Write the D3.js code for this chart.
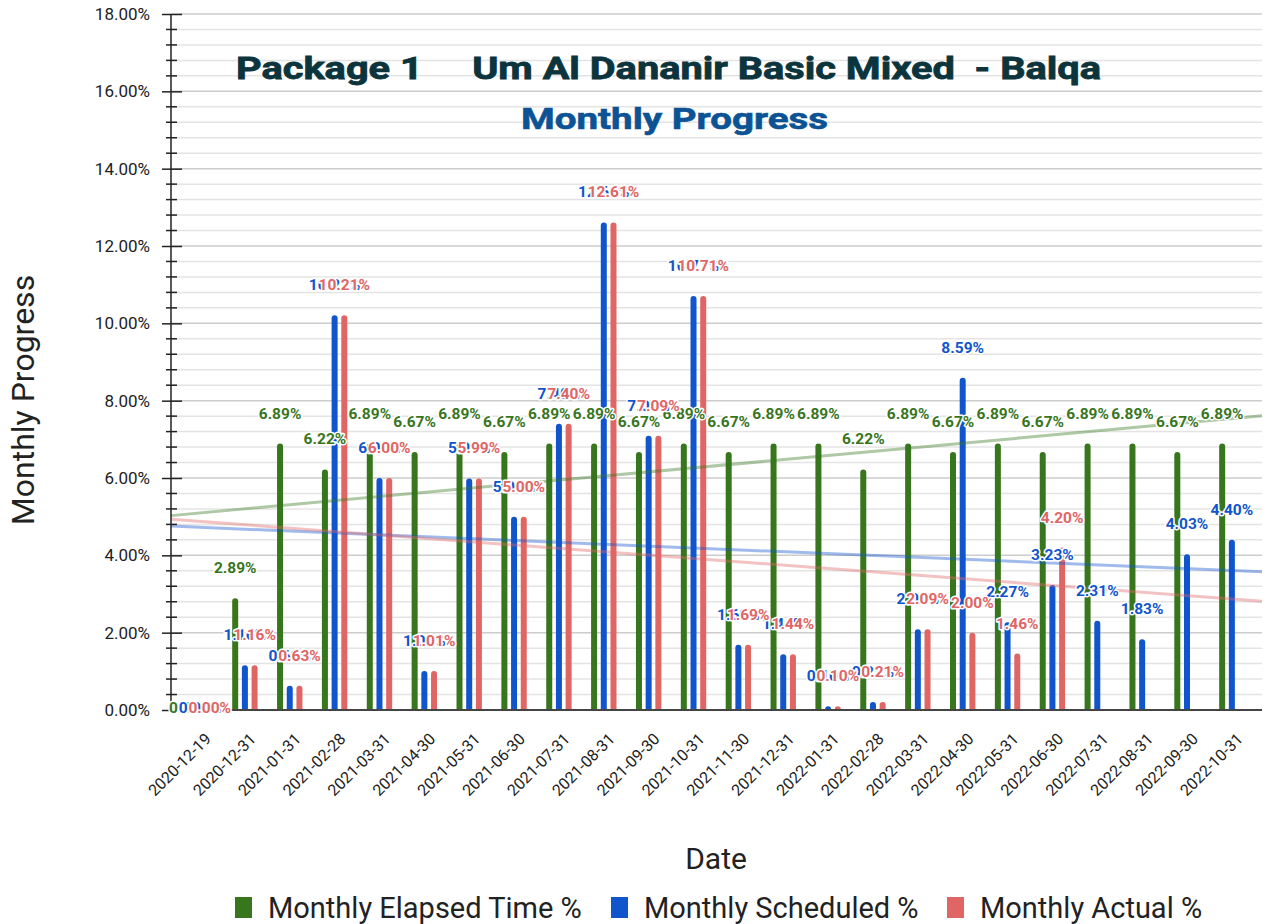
<!DOCTYPE html>
<html>
<head>
<meta charset="utf-8">
<script src="https://cdn.jsdelivr.net/npm/d3@7"></script>
<style>
  body { margin: 0; background: #fff; }
  text { font-family: Roboto, "Noto Sans", sans-serif; }
</style>
</head>
<body>
<script>
// Chart data (percent values, null = no bar)
const dates = ['2020-12-19', '2020-12-31', '2021-01-31', '2021-02-28', '2021-03-31', '2021-04-30',
  '2021-05-31', '2021-06-30', '2021-07-31', '2021-08-31', '2021-09-30', '2021-10-31', '2021-11-30',
  '2021-12-31', '2022-01-31', '2022-02-28', '2022-03-31', '2022-04-30', '2022-05-31', '2022-06-30',
  '2022-07-31', '2022-08-31', '2022-09-30', '2022-10-31'];
const elapsed = [0.00, 2.89, 6.89, 6.22, 6.89, 6.67, 6.89, 6.67, 6.89, 6.89, 6.67, 6.89, 6.67,
  6.89, 6.89, 6.22, 6.89, 6.67, 6.89, 6.67, 6.89, 6.89, 6.67, 6.89];
const scheduled = [0.00, 1.16, 0.63, 10.21, 6.00, 1.01, 5.99, 5.00, 7.40, 12.61, 7.09, 10.71, 1.69,
  1.44, 0.10, 0.21, 2.09, 8.59, 2.27, 3.23, 2.31, 1.83, 4.03, 4.40];
const actual = [0.00, 1.16, 0.63, 10.21, 6.00, 1.01, 5.99, 5.00, 7.40, 12.61, 7.09, 10.71, 1.69,
  1.44, 0.10, 0.21, 2.09, 2.00, 1.46, 4.20, null, null, null, null];
const seriesNames = ['Monthly Elapsed Time %', 'Monthly Scheduled %', 'Monthly Actual %'];
const seriesColors = ['#38761d', '#1155cc', '#e06666'];
const yTicks = [0, 2, 4, 6, 8, 10, 12, 14, 16, 18];

const series = [elapsed, scheduled, actual].map((values, i) => ({
  name: seriesNames[i], color: seriesColors[i], values: values
}));

const width = 1272;
const height = 924;
const plotLeft = 171, plotRight = 1262, plotTop = 14, plotBottom = 710;

const svg = d3.select('body').append('svg')
  .attr('width', width)
  .attr('height', height);

const y = d3.scaleLinear().domain([0, 18]).range([plotBottom, plotTop]);
const x = d3.scaleBand().domain(dates).range([177.6, 1254.3]);
const xs = d3.scaleBand().domain(seriesNames).range([-12.7, 12.7]).paddingInner(0.38);
const fmt = v => d3.format('.2f')(v) + '%';

// gridlines
const minorTicks = d3.range(0, 18.01, 0.4).filter(v => Math.abs(v / 2 - Math.round(v / 2)) > 0.01);
const gridG = svg.append('g');
gridG.selectAll('.minor').data(minorTicks).enter().append('line')
  .attr('x1', plotLeft).attr('x2', plotRight)
  .attr('y1', d => y(d)).attr('y2', d => y(d))
  .attr('stroke', '#e4e4e4').attr('stroke-width', 1.5);
gridG.selectAll('.major').data(yTicks.slice(1)).enter().append('line')
  .attr('x1', plotLeft).attr('x2', plotRight)
  .attr('y1', d => y(d)).attr('y2', d => y(d))
  .attr('stroke', '#cccccc').attr('stroke-width', 1.5);

// bars with rounded tops
const roundTop = (bx, by, w, h, r) => {
  r = Math.min(r, h, w / 2);
  return `M${bx},${by + h}V${by + r}Q${bx},${by} ${bx + r},${by}H${bx + w - r}Q${bx + w},${by} ${bx + w},${by + r}V${by + h}Z`;
};
const barG = svg.append('g');
series.forEach(s => {
  barG.append('g').selectAll('path')
    .data(s.values.map((v, i) => ({ v: v, date: dates[i] })).filter(d => d.v))
    .enter().append('path')
    .attr('fill', s.color)
    .attr('d', d => {
      const bx = x(d.date) + x.bandwidth() / 2 + xs(s.name);
      return roundTop(bx, y(d.v), xs.bandwidth(), y(0) - y(d.v), 3);
    });
});

// linear trendlines (least squares on category index)
const step = x.step();
const c0 = x(dates[0]) + step / 2;
const trendG = svg.append('g');
series.forEach(s => {
  const pts = s.values.map((v, i) => [i, v]).filter(p => p[1] !== null);
  const mx = d3.mean(pts, p => p[0]);
  const my = d3.mean(pts, p => p[1]);
  const slope = d3.sum(pts, p => (p[0] - mx) * (p[1] - my)) / d3.sum(pts, p => (p[0] - mx) ** 2);
  const f = px => my + slope * ((px - c0) / step - mx);
  trendG.append('line')
    .attr('x1', plotLeft).attr('y1', y(f(plotLeft)))
    .attr('x2', plotRight).attr('y2', y(f(plotRight)))
    .attr('stroke', s.color).attr('stroke-opacity', 0.4).attr('stroke-width', 3);
});

// axes
const yAxis = svg.append('g')
  .attr('transform', `translate(${plotLeft},0)`)
  .call(d3.axisLeft(y).tickValues(yTicks).tickSize(9).tickFormat(fmt));
yAxis.select('.domain').attr('stroke', '#222').attr('stroke-width', 1.5)
  .attr('d', `M0,${plotTop}V${plotBottom + 3}`);
yAxis.selectAll('.tick line').attr('x1', 11).attr('stroke', '#222').attr('stroke-width', 1.5);
yAxis.selectAll('.tick text').attr('x', -21).attr('font-size', 17)
  .attr('font-family', 'Roboto').attr('fill', '#222');
yAxis.selectAll('.minorTick').data(minorTicks).enter().append('line')
  .attr('x1', -5).attr('x2', 6)
  .attr('y1', d => y(d)).attr('y2', d => y(d))
  .attr('stroke', '#222').attr('stroke-width', 1.5);

svg.append('line')
  .attr('x1', plotLeft).attr('x2', plotRight)
  .attr('y1', y(0)).attr('y2', y(0))
  .attr('stroke', '#444').attr('stroke-width', 2);

const xAxis = svg.append('g');
xAxis.selectAll('text').data(dates).enter().append('text')
  .attr('transform', d => `translate(${x(d) + step / 2 + 12},${plotBottom + 30}) rotate(-45)`)
  .attr('text-anchor', 'end')
  .attr('font-size', 16)
  .attr('fill', '#222')
  .text(d => d);

// data labels
const labelG = svg.append('g');
series.forEach(s => {
  labelG.append('g').selectAll('text')
    .data(s.values.map((v, i) => ({ v: v, date: dates[i] })).filter(d => d.v !== null))
    .enter().append('text')
    .attr('x', d => x(d.date) + step / 2 + xs(s.name) + xs.bandwidth() / 2)
    .attr('y', d => d.v === 0 ? y(0) + 3 : y(d.v) - 25)
    .attr('text-anchor', 'middle')
    .attr('font-size', 15.5)
    .attr('font-weight', 'bold')
    .attr('fill', s.color)
    .attr('stroke', '#fff')
    .attr('stroke-width', 3)
    .attr('stroke-linejoin', 'round')
    .attr('paint-order', 'stroke')
    .text(d => fmt(d.v));
});

// titles
svg.append('text')
  .attr('x', 236).attr('y', 79)
  .attr('font-family', '"Liberation Sans", Arial, sans-serif')
  .attr('font-size', 31).attr('font-weight', 'bold')
  .attr('fill', '#0c343d').attr('stroke', '#0c343d').attr('stroke-width', 0.8)
  .attr('textLength', 865).attr('lengthAdjust', 'spacingAndGlyphs')
  .style('white-space', 'pre')
  .text('Package 1     Um Al Dananir Basic Mixed  - Balqa');

svg.append('text')
  .attr('x', 521).attr('y', 129)
  .attr('font-family', '"Liberation Sans", Arial, sans-serif')
  .attr('font-size', 30).attr('font-weight', 'bold')
  .attr('fill', '#0b5394').attr('stroke', '#0b5394').attr('stroke-width', 0.6)
  .attr('textLength', 307).attr('lengthAdjust', 'spacingAndGlyphs')
  .text('Monthly Progress');

svg.append('text')
  .attr('transform', 'translate(34,400) rotate(-90)')
  .attr('text-anchor', 'middle')
  .attr('font-size', 32).attr('fill', '#222')
  .text('Monthly Progress');

svg.append('text')
  .attr('x', 716).attr('y', 869)
  .attr('text-anchor', 'middle')
  .attr('font-size', 30).attr('fill', '#222')
  .text('Date');

// legend
const legendX = [235, 611, 947];
const legend = svg.append('g').selectAll('g').data(series).enter().append('g')
  .attr('transform', (d, i) => `translate(${legendX[i]},0)`);
legend.append('rect')
  .attr('x', 0).attr('y', 897).attr('width', 17).attr('height', 21)
  .attr('fill', d => d.color);
legend.append('text')
  .attr('x', 33).attr('y', 918)
  .attr('font-size', 29).attr('fill', '#222')
  .text(d => d.name);
</script>
</body>
</html>
